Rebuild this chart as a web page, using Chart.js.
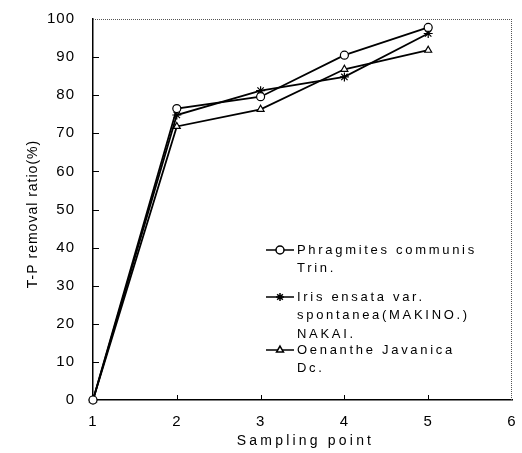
<!DOCTYPE html>
<html><head><meta charset="utf-8">
<script src="https://cdn.jsdelivr.net/npm/chart.js@4"></script>
<style>html,body{margin:0;padding:0;background:#fff}canvas{display:block}</style>
</head><body>
<canvas id="c" width="522" height="453"></canvas>
<script>
const samplingPoints = [1, 2, 3, 4, 5];
const phragmites = [0, 76.5, 79.6, 90.5, 97.8];
const iris = [0, 74.8, 81.2, 84.8, 96.2];
const oenanthe = [0, 71.8, 76.3, 86.8, 91.8];
const seriesNames = ["Phragmites communis Trin.", "Iris ensata var. spontanea(MAKINO.) NAKAI.", "Oenanthe Javanica Dc."];
const legendLines = [["Phragmites communis", "Trin."], ["Iris ensata var.", "spontanea(MAKINO.)", "NAKAI."], ["Oenanthe Javanica", "Dc."]];
const pointStyles = ["circle", "star", "triangle"];
const xTickValues = [1, 2, 3, 4, 5, 6];
const yTickValues = [0, 10, 20, 30, 40, 50, 60, 70, 80, 90, 100];
const xTitle = "Sampling point";
const yTitle = "T-P removal ratio(%)";

const FONT = "'Liberation Sans', Arial, sans-serif";
const seriesValues = [phragmites, iris, oenanthe];
const datasets = seriesValues.map((vals, i) => ({
  label: seriesNames[i],
  data: samplingPoints.map((x, j) => ({x: x, y: vals[j]})),
  borderColor: '#000',
  borderWidth: 1.8,
  pointStyle: pointStyles[i],
  pointRadius: i === 1 ? 4.5 : 4,
  pointBorderWidth: 1.2,
  pointBackgroundColor: '#fff',
  pointBorderColor: '#000',
  tension: 0,
  clip: false
}));

const framePlugin = {
  id: 'frame',
  beforeDraw(chart) { chart.ctx.letterSpacing = '1px'; },
  afterDraw(chart) {
    const ctx = chart.ctx;
    const a = chart.chartArea;
    const xs = chart.scales.x, ys = chart.scales.y;
    ctx.save();
    ctx.strokeStyle = '#555';
    ctx.lineWidth = 1;
    ctx.setLineDash([1, 1]);
    ctx.beginPath();
    ctx.moveTo(a.left, a.top + 0.5); ctx.lineTo(a.right, a.top + 0.5);
    ctx.moveTo(a.right - 0.5, a.top); ctx.lineTo(a.right - 0.5, a.bottom);
    ctx.stroke();
    ctx.setLineDash([]);
    ctx.strokeStyle = '#000';
    ctx.lineWidth = 1;
    ctx.beginPath();
    yTickValues.forEach(v => {
      if (v === 0 || v === 100) return;
      const y = Math.round(ys.getPixelForValue(v)) + 0.5;
      ctx.moveTo(a.left, y); ctx.lineTo(a.left + 6, y);
    });
    xTickValues.forEach(v => {
      if (v === 1 || v === 6) return;
      const x = Math.round(xs.getPixelForValue(v)) + 0.5;
      ctx.moveTo(x, a.bottom); ctx.lineTo(x, a.bottom - 5);
    });
    ctx.stroke();
    ctx.fillStyle = '#000';
    ctx.textAlign = 'center';
    ctx.textBaseline = 'middle';
    ctx.font = '14px ' + FONT;
    ctx.letterSpacing = '3.2px';
    ctx.fillText(xTitle, (a.left + a.right) / 2 + 3, 441);
    ctx.save();
    ctx.translate(33, 214);
    ctx.rotate(-Math.PI / 2);
    ctx.letterSpacing = '1px';
    ctx.font = '14px ' + FONT;
    ctx.fillText(yTitle, 0, 0);
    ctx.restore();
    const lineH = 18.5;
    const starts = [250, 297, 350];
    ctx.textAlign = 'left';
    ctx.font = '13px ' + FONT;
    ctx.letterSpacing = '2.7px';
    legendLines.forEach((lines, i) => {
      const y0 = starts[i];
      ctx.strokeStyle = '#000';
      ctx.lineWidth = 1.5;
      ctx.beginPath();
      ctx.moveTo(266, y0); ctx.lineTo(294, y0);
      ctx.stroke();
      ctx.fillStyle = '#fff';
      Chart.helpers.drawPoint(ctx, {pointStyle: pointStyles[i], radius: 4, borderWidth: 1.2, rotation: 0}, 280, y0);
      ctx.fillStyle = '#000';
      lines.forEach((t, k) => ctx.fillText(t, 297, y0 + k * lineH));
    });
    ctx.restore();
  }
};

new Chart(document.getElementById('c'), {
  type: 'line',
  data: {datasets},
  options: {
    responsive: false,
    animation: false,
    devicePixelRatio: 1,
    layout: {padding: {top: 19, right: 10, left: 0, bottom: 0}},
    plugins: {legend: {display: false}, tooltip: {enabled: false}},
    scales: {
      x: {
        type: 'linear', min: 1, max: 6,
        afterFit(s) { s.height = 53; s.paddingRight = 0; s.paddingLeft = 0; },
        afterBuildTicks(s) { s.ticks = xTickValues.map(v => ({value: v})); },
        grid: {display: false, drawTicks: false},
        border: {display: true, color: '#000', width: 1.5},
        ticks: {color: '#000', font: {family: FONT, size: 15}, padding: 13, autoSkip: false, maxRotation: 0}
      },
      y: {
        type: 'linear', min: 0, max: 100,
        afterFit(s) { s.width = 93; s.paddingTop = 0; s.paddingBottom = 0; },
        afterBuildTicks(s) { s.ticks = yTickValues.map(v => ({value: v})); },
        grid: {display: false, drawTicks: false},
        border: {display: true, color: '#000', width: 1.5},
        ticks: {color: '#000', font: {family: FONT, size: 15}, padding: 18}
      }
    }
  },
  plugins: [framePlugin]
});
</script>
</body></html>
